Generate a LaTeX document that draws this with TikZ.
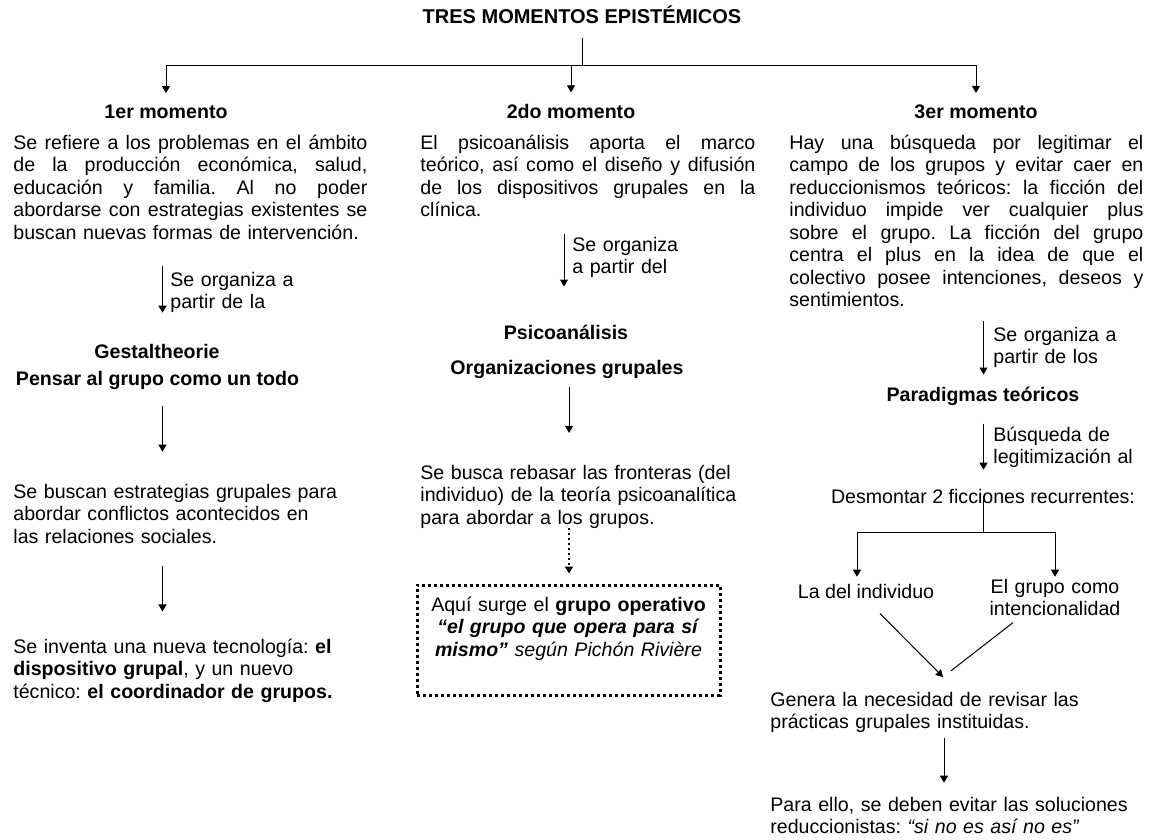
\documentclass[tikz,border=0pt]{standalone}
\usepackage{fontspec}
\setmainfont{Liberation Sans}
\usetikzlibrary{arrows.meta, positioning}
\newcommand{\jline}[2][177pt]{\makebox[#1][s]{\spaceskip=0pt\relax #2}}
\frenchspacing

\begin{document}
\begin{tikzpicture}[
    x=0.5pt, y=-0.5pt,
    txt/.style={inner sep=0pt, font=\fontsize{9.8}{11.25}\selectfont},
    head/.style={inner sep=0pt, anchor=base, font=\bfseries\fontsize{9.8}{11.25}\selectfont},
    para/.style={txt, anchor=base west, align=left},
    lbl/.style={txt, anchor=base west, align=left, text width=80pt},
    line/.style={line width=0.5pt},
    arrow/.style={line, -{Triangle[length=3.5pt, width=4pt]}},
    dotarrow/.style={arrow, line width=1pt, dash pattern=on 1pt off 1.5pt},
    dotbox/.style={txt, draw, line width=1.5pt, dash pattern=on 1.5pt off 1.5pt,
                   align=center, text width=150pt, inner xsep=0.75pt, inner ysep=5.85pt},
  ]
    \useasboundingbox (0,0) rectangle (1151,840);

    % Title
    \node[head, font=\bfseries\fontsize{10}{12}\selectfont] (title) at (582,24) {TRES MOMENTOS EPISTÉMICOS};

    % Moments
    \node[head] (mom1) at (166,119) {1er momento};
    \node[head] (mom2) at (571,119) {2do momento};
    \node[head] (mom3) at (976,119) {3er momento};

    \node[para, text width=177pt] (para1) at (13,149) {\jline{Se refiere a los problemas en el ámbito}\\
      \jline{de la producción económica, salud,}\\
      \jline{educación y familia. Al no poder}\\
      \jline{abordarse con estrategias existentes se}\\
      buscan nuevas formas de intervención.};
    \node[para, text width=167.5pt] (para2) at (420,149) {\jline[167.5pt]{El psicoanálisis aporta el marco}\\
      \jline[167.5pt]{teórico, así como el diseño y difusión}\\
      \jline[167.5pt]{de los dispositivos grupales en la}\\
      clínica.};
    \node[para, text width=177pt] (para3) at (789,149) {\jline{Hay una búsqueda por legitimar el}\\
      \jline{campo de los grupos y evitar caer en}\\
      \jline{reduccionismos teóricos: la ficción del}\\
      \jline{individuo impide ver cualquier plus}\\
      \jline{sobre el grupo. La ficción del grupo}\\
      \jline{centra el plus en la idea de que el}\\
      \jline{colectivo posee intenciones, deseos y}\\
      sentimientos.};

    % Column 1
    \node[lbl] (lbl1) at (170,286) {Se organiza a\\partir de la};
    \node[head] (gestalt) at (157,358) {Gestaltheorie};
    \node[head] (pensar) at (157.5,385) {Pensar al grupo como un todo};
    \node[para, text width=180pt] (strat1) at (13,498) {Se buscan estrategias grupales para\\
      abordar conflictos acontecidos en\\las relaciones sociales.};
    \node[para, text width=180pt] (invent) at (13,653) {Se inventa una nueva tecnología: \textbf{el}\\
      \textbf{dispositivo grupal}, y un nuevo\\técnico: \textbf{el coordinador de grupos.}};

    % Column 2
    \node[lbl] (lbl2) at (572,251) {Se organiza\\a partir del};
    \node[head] (psico) at (566,339) {Psicoanálisis};
    \node[head] (organiz) at (567,374) {Organizaciones grupales};
    \node[para, text width=175pt] (rebasar) at (420,479) {Se busca rebasar las fronteras (del\\
      individuo) de la teoría psicoanalítica\\para abordar a los grupos.};
    \node[dotbox, anchor=base, text height=7.15pt, text depth=36.15pt] (operativo) at (568.5,611)
      {Aquí surge el \textbf{grupo operativo}\\
       \textbf{\textit{“el grupo que opera para sí}}\\
       \textbf{\textit{mismo”}} \textit{según Pichón Rivière}};

    % Column 3
    \node[lbl] (lbl3) at (993,341) {Se organiza a\\partir de los};
    \node[head] (paradigmas) at (983,401) {Paradigmas teóricos};
    \node[lbl] (lbl4) at (993,441) {Búsqueda de\\legitimización al};
    \node[txt, anchor=base] (desm) at (983,503) {Desmontar 2 ficciones recurrentes:};
    \node[txt, anchor=base] (individuo) at (866,598) {La del individuo};
    \node[txt, anchor=base, align=center, text width=80pt] (intenc) at (1055,593) {El grupo como\\intencionalidad};
    \node[para, text width=180pt] (genera) at (770,706) {Genera la necesidad de revisar las\\
      prácticas grupales instituidas.};
    \node[para, text width=190pt] (paraello) at (770,811) {Para ello, se deben evitar las soluciones\\
      reduccionistas: \textit{“si no es así no es”}};

    % Column lines
    \coordinate (c1) at (162.5,0);
    \coordinate (c2) at (564,0);
    \coordinate (c2b) at (569,0);
    \coordinate (c3) at (983.5,0);
    \coordinate (c4) at (944,0);
    \coordinate (meet) at (943,677);

    % Arrows
    \draw[line] ([yshift=-6.5pt]title.south) -- ++(0,28) coordinate (hub);
    \draw[arrow, shorten >=6pt] (hub) -| (mom1.north);
    \draw[arrow, shorten >=6pt] (hub) -| (mom3.north);
    \draw[arrow, shorten >=6pt] (hub -| mom2.north) -- (mom2.north);

    \draw[arrow, shorten <=13pt, shorten >=15.35pt] (para1.south -| c1) -- (gestalt.north -| c1);
    \draw[arrow, shorten <=8pt, shorten >=15.85pt] (pensar.south -| c1) -- (strat1.north -| c1);
    \draw[arrow, shorten <=11pt, shorten >=13.35pt] (strat1.south -| c1) -- (invent.north -| c1);

    \draw[arrow, shorten <=8.25pt, shorten >=18.85pt] (para2.south -| c2) -- (psico.north -| c2);
    \draw[arrow, shorten <=4.45pt, shorten >=15.75pt] (organiz.south -| c2b) -- (rebasar.north -| c2b);
    \draw[dotarrow, shorten >=5pt] (rebasar.south -| c2b) -- (operativo.north -| c2b);

    \draw[arrow, shorten <=6.75pt, shorten >=5.85pt] (para3.south -| c3) -- (paradigmas.north -| c3);
    \draw[arrow, shorten <=9pt, shorten >=9.35pt] (paradigmas.south -| c3) -- (desm.north -| c3);
    \draw[arrow, shorten >=3.35pt] (desm.center) -- ++(0,37) -| ([xshift=-4.5pt]individuo.north);
    \draw[arrow, shorten >=0.85pt] (desm.center) -- ++(0,37) -| (intenc.north);
    \draw[arrow] ([shift={(14,15)}]individuo.south) -- (meet);
    \draw[line, shorten >=5pt] ([shift={(-42,6.5)}]intenc.south) -- (meet);
    \draw[arrow, shorten <=2.7pt, shorten >=6.85pt] (genera.south -| c4) -- (paraello.north -| c4);
  \end{tikzpicture}
\end{document}
